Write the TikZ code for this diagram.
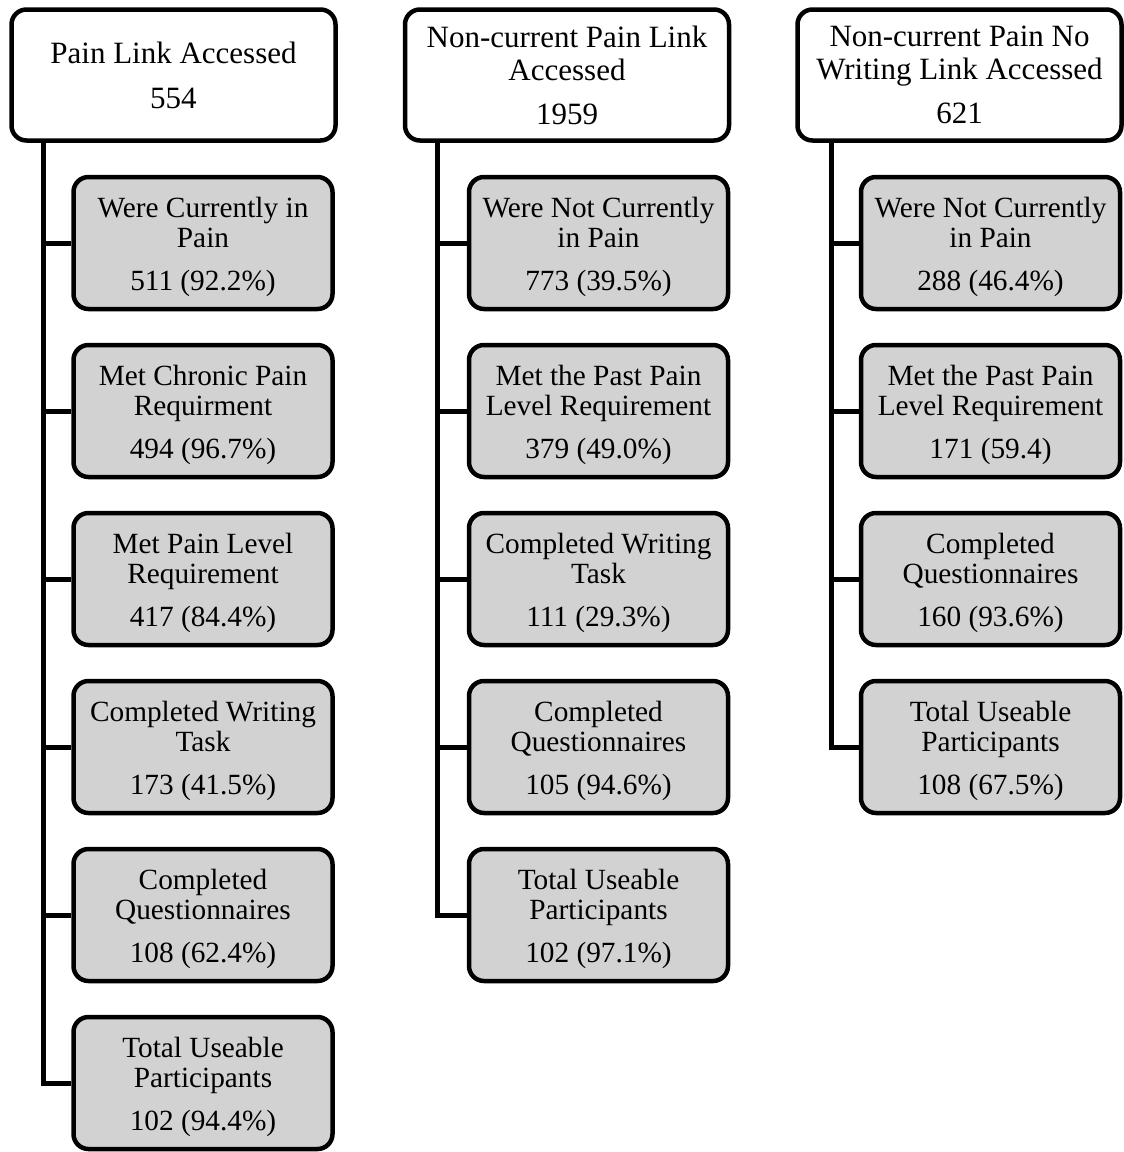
\documentclass[tikz,border=0pt]{standalone}
\usepackage{fontspec}
\setmainfont{Liberation Serif}
\newcommand{\topstrut}{\rule{0pt}{29pt}}
\begin{document}
\begin{tikzpicture}[x=1pt,y=-1pt,
  headbox/.style={draw=black, line width=4.5pt, fill=white, rounded corners=15pt,
    minimum width=324pt, minimum height=131pt, align=center, inner sep=0pt,
    font=\fontsize{31}{33}\selectfont},
  graybox/.style={draw=black, line width=4.5pt, fill=gray!35, rounded corners=15pt,
    minimum width=259pt, minimum height=132pt, align=center, inner sep=0pt,
    font=\fontsize{29.3}{30}\selectfont},
  conn/.style={draw=black, line width=5pt}]
\useasboundingbox (0,0) rectangle (1124,1152);
% column x coordinates for the trunk lines
\coordinate (v1) at (43,0);
\coordinate (v2) at (437,0);
\coordinate (v3) at (831,0);
% headers
\node[headbox] (h1) at (173.5,75) {Pain Link Accessed\\[12pt]554};
\node[headbox] (h2) at (567,75) {Non-current Pain Link\\Accessed\\[11pt]1959};
\node[headbox] (h3) at (959.5,75) {Non-current Pain No\\Writing Link Accessed\\[11pt]621};
% column 1
\node[graybox] (a1) at (203,243) {\topstrut Were Currently in\\Pain\\[13pt]511 (92.2\%)};
\node[graybox] (a2) at (203,411) {\topstrut Met Chronic Pain\\Requirment\\[13pt]494 (96.7\%)};
\node[graybox] (a3) at (203,579) {\topstrut Met Pain Level\\Requirement\\[13pt]417 (84.4\%)};
\node[graybox] (a4) at (203,747) {\topstrut Completed Writing\\Task\\[13pt]173 (41.5\%)};
\node[graybox] (a5) at (203,915) {\topstrut Completed\\Questionnaires\\[13pt]108 (62.4\%)};
\node[graybox] (a6) at (203,1083) {\topstrut Total Useable\\Participants\\[13pt]102 (94.4\%)};
% column 2
\node[graybox] (b1) at (598.5,243) {\topstrut Were Not Currently\\in Pain\\[13pt]773 (39.5\%)};
\node[graybox] (b2) at (598.5,411) {\topstrut Met the Past Pain\\Level Requirement\\[13pt]379 (49.0\%)};
\node[graybox] (b3) at (598.5,579) {\topstrut Completed Writing\\Task\\[13pt]111 (29.3\%)};
\node[graybox] (b4) at (598.5,747) {\topstrut Completed\\Questionnaires\\[13pt]105 (94.6\%)};
\node[graybox] (b5) at (598.5,915) {\topstrut Total Useable\\Participants\\[13pt]102 (97.1\%)};
% column 3
\node[graybox] (c1) at (990.5,243) {\topstrut Were Not Currently\\in Pain\\[13pt]288 (46.4\%)};
\node[graybox] (c2) at (990.5,411) {\topstrut Met the Past Pain\\Level Requirement\\[13pt]171 (59.4)};
\node[graybox] (c3) at (990.5,579) {\topstrut Completed\\Questionnaires\\[13pt]160 (93.6\%)};
\node[graybox] (c4) at (990.5,747) {\topstrut Total Useable\\Participants\\[13pt]108 (67.5\%)};
% connectors
\draw[conn] (h1.south -| v1) |- (a6.west);
\foreach \n in {a1,a2,a3,a4,a5} \draw[conn] (\n.west -| v1) -- (\n.west);
\draw[conn] (h2.south -| v2) |- (b5.west);
\foreach \n in {b1,b2,b3,b4} \draw[conn] (\n.west -| v2) -- (\n.west);
\draw[conn] (h3.south -| v3) |- (c4.west);
\foreach \n in {c1,c2,c3} \draw[conn] (\n.west -| v3) -- (\n.west);
\end{tikzpicture}
\end{document}
